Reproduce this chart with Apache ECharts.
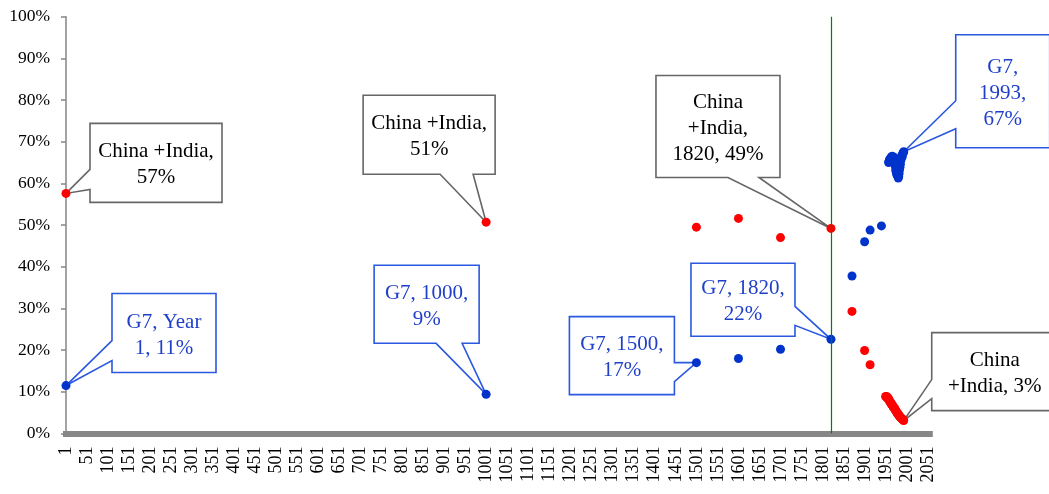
<!DOCTYPE html>
<html>
<head>
<meta charset="utf-8">
<script src="https://cdn.jsdelivr.net/npm/echarts@6/dist/echarts.min.js"></script>
<style>
html,body{margin:0;padding:0;background:#fff;}
#chart{width:1049px;height:494px;}
</style>
</head>
<body>
<div id="chart"></div>
<script>
// ---- data ----
const redYears = [1, 1000, 1500, 1600, 1700, 1820, 1870, 1900, 1913,
  1950, 1951, 1952, 1953, 1954, 1955, 1956, 1957, 1958, 1959,
  1960, 1961, 1962, 1963, 1964, 1965, 1966, 1967, 1968, 1969,
  1970, 1971, 1972, 1973, 1974, 1975, 1976, 1977, 1978, 1979,
  1980, 1981, 1982, 1983, 1984, 1985, 1986, 1987, 1988, 1989,
  1990, 1991, 1992, 1993];
const redValues = [57.6, 50.7, 49.5, 51.6, 47.0, 49.2, 29.3, 19.9, 16.5,
  8.9, 8.8, 8.9, 8.7, 8.5, 8.6, 8.4, 8.2, 8.1, 7.9,
  7.6, 7.5, 7.4, 7.2, 7.0, 6.9, 6.8, 6.6, 6.4, 6.3,
  6.2, 6.0, 5.8, 5.7, 5.5, 5.3, 5.2, 5.0, 4.8, 4.7,
  4.6, 4.4, 4.3, 4.2, 4.0, 3.9, 3.8, 3.7, 3.6, 3.5,
  3.4, 3.3, 3.2, 3.1];
const blueYears = [1, 1000, 1500, 1600, 1700, 1820, 1870, 1900, 1913, 1940,
  1957, 1958, 1959, 1960, 1961, 1962, 1963, 1964, 1965, 1966,
  1967, 1968, 1969, 1970, 1971, 1972, 1973, 1974, 1975, 1976,
  1977, 1978, 1979, 1980, 1981, 1982, 1983, 1984, 1985, 1986,
  1987, 1988, 1989, 1990, 1991, 1992, 1993];
const blueValues = [11.5, 9.4, 17.0, 18.0, 20.2, 22.6, 37.8, 46.0, 48.8, 49.8,
  65.0, 65.3, 65.6, 65.9, 65.5, 65.9, 66.2, 66.4, 66.0, 66.5,
  66.2, 65.8, 66.0, 66.3, 65.7, 65.0, 64.2, 63.3, 62.8, 62.4,
  62.0, 62.7, 61.8, 61.3, 61.6, 62.4, 63.3, 63.9, 64.6, 65.5,
  66.1, 66.6, 66.3, 66.9, 67.2, 67.4, 67.6];
const xTickLabels = [1, 51, 101, 151, 201, 251, 301, 351, 401, 451, 501, 551, 601, 651,
  701, 751, 801, 851, 901, 951, 1001, 1051, 1101, 1151, 1201, 1251, 1301, 1351,
  1401, 1451, 1501, 1551, 1601, 1651, 1701, 1751, 1801, 1851, 1901, 1951, 2001, 2051];
const markerYear = 1820;

// callouts: which series/year they point at, and their text
const callouts = [
  {series: 'red', year: 1, text: 'China +India,\n57%'},
  {series: 'red', year: 1000, text: 'China +India,\n51%'},
  {series: 'red', year: 1820, text: 'China\n+India,\n1820, 49%'},
  {series: 'blue', year: 1993, text: 'G7,\n1993,\n67%'},
  {series: 'blue', year: 1, text: 'G7, Year\n1, 11%'},
  {series: 'blue', year: 1000, text: 'G7, 1000,\n9%'},
  {series: 'blue', year: 1500, text: 'G7, 1500,\n17%'},
  {series: 'blue', year: 1820, text: 'G7, 1820,\n22%'},
  {series: 'red', year: 1993, text: 'China\n+India, 3%'}
];
// ---- layout of callouts (pixel offsets from the pointed mark) ----
const calloutLayout = [
  {box: [24, 156, -70, 9], side: 'left', tail: [-24, -4]},
  {box: [-123, 9, -127, -48], side: 'bottom', tail: [-46, -13]},
  {box: [-175, -51, -153, -51], side: 'bottom', tail: [-103, -72]},
  {box: [52, 146, -117, -4], side: 'left', tail: [-51, -23]},
  {box: [46, 150, -92, -13], side: 'left', tail: [-45, -25]},
  {box: [-112, -7, -129, -51], side: 'bottom', tail: [-50, -24]},
  {box: [-127, -22, -46, 32], side: 'right', tail: [0, 19]},
  {box: [-140, -36, -76, -3], side: 'right', tail: [-33, -14]},
  {box: [28, 154, -88, -10], side: 'left', tail: [-41, -22]}
];

const RED = '#ff0000', BLUE = '#0033cc';
const BLUE_TEXT = '#1f3fc9', BLUE_BORDER = '#2a58e0', GRAY_BORDER = '#666666';
const FONT = '"Liberation Serif", "Times New Roman", serif';

function pairs(xs, ys) { return xs.map((x, i) => [x, ys[i]]); }
const calloutData = callouts.map(c => {
  const xs = c.series === 'red' ? redYears : blueYears;
  const ys = c.series === 'red' ? redValues : blueValues;
  return [c.year, ys[xs.indexOf(c.year)]];
});

const chart = echarts.init(document.getElementById('chart'), null, {renderer: 'canvas'});
chart.setOption({
  animation: false,
  backgroundColor: '#fff',
  grid: {left: 66, top: 16.7, width: 863.8, height: 416.8, containLabel: false, outerBoundsMode: 'none'},
  xAxis: {
    type: 'value', min: 1, max: 2055, offset: 3,
    splitLine: {show: false},
    axisLine: {show: true, lineStyle: {color: '#878787', width: 6, cap: 'square'}},
    axisTick: {show: false},
    axisLabel: {
      customValues: xTickLabels, rotate: 90, margin: 10, hideOverlap: false,
      formatter: function (v) { return String(v); },
      color: '#000', fontFamily: FONT, fontSize: 18
    }
  },
  yAxis: {
    type: 'value', min: 0, max: 100, interval: 10,
    splitLine: {show: false},
    axisLine: {show: true, lineStyle: {color: '#868686', width: 1.5}},
    axisTick: {show: true, inside: false, length: 5, lineStyle: {color: '#868686', width: 1.5}},
    axisLabel: {formatter: '{value}%', margin: 16, color: '#000', fontFamily: FONT, fontSize: 17.5}
  },
  series: [
    {
      type: 'custom', name: 'callouts', clip: false, z: 1,
      data: calloutData,
      renderItem: function (params, api) {
        const i = params.dataIndex;
        const c = callouts[i], L = calloutLayout[i];
        const p = api.coord([api.value(0), api.value(1)]);
        const x0 = p[0] + L.box[0], x1 = p[0] + L.box[1];
        const y0 = p[1] + L.box[2], y1 = p[1] + L.box[3];
        let pts;
        if (L.side === 'left') {
          pts = [[x0, y0], [x1, y0], [x1, y1], [x0, y1], [x0, p[1] + L.tail[1]], p, [x0, p[1] + L.tail[0]]];
        } else if (L.side === 'bottom') {
          pts = [[x0, y0], [x1, y0], [x1, y1], [p[0] + L.tail[1], y1], p, [p[0] + L.tail[0], y1], [x0, y1]];
        } else {
          pts = [[x0, y0], [x1, y0], [x1, p[1] + L.tail[0]], p, [x1, p[1] + L.tail[1]], [x1, y1], [x0, y1]];
        }
        const isBlue = c.series === 'blue';
        return {
          type: 'group',
          children: [
            {type: 'polygon', shape: {points: pts},
             style: {fill: '#fff', stroke: isBlue ? BLUE_BORDER : GRAY_BORDER, lineWidth: 1.6, lineJoin: 'miter'}},
            {type: 'text',
             style: {text: c.text, x: (x0 + x1) / 2, y: (y0 + y1) / 2 + 2,
                     align: 'center', verticalAlign: 'middle',
                     fontFamily: FONT, fontSize: 21, lineHeight: 26,
                     fill: isBlue ? BLUE_TEXT : '#000'}}
          ]
        };
      }
    },
    {
      type: 'scatter', name: 'China+India', z: 3,
      data: pairs(redYears, redValues),
      symbol: 'circle', symbolSize: 9,
      itemStyle: {color: RED, opacity: 1},
      markLine: {
        silent: true, symbol: ['none', 'none'], label: {show: false},
        lineStyle: {color: '#008000', width: 1.2, type: 'solid', opacity: 1},
        data: [{xAxis: markerYear}]
      }
    },
    {
      type: 'scatter', name: 'G7', z: 3,
      data: pairs(blueYears, blueValues),
      symbol: 'circle', symbolSize: 9,
      itemStyle: {color: BLUE, opacity: 1}
    }
  ]
});
</script>
</body>
</html>
